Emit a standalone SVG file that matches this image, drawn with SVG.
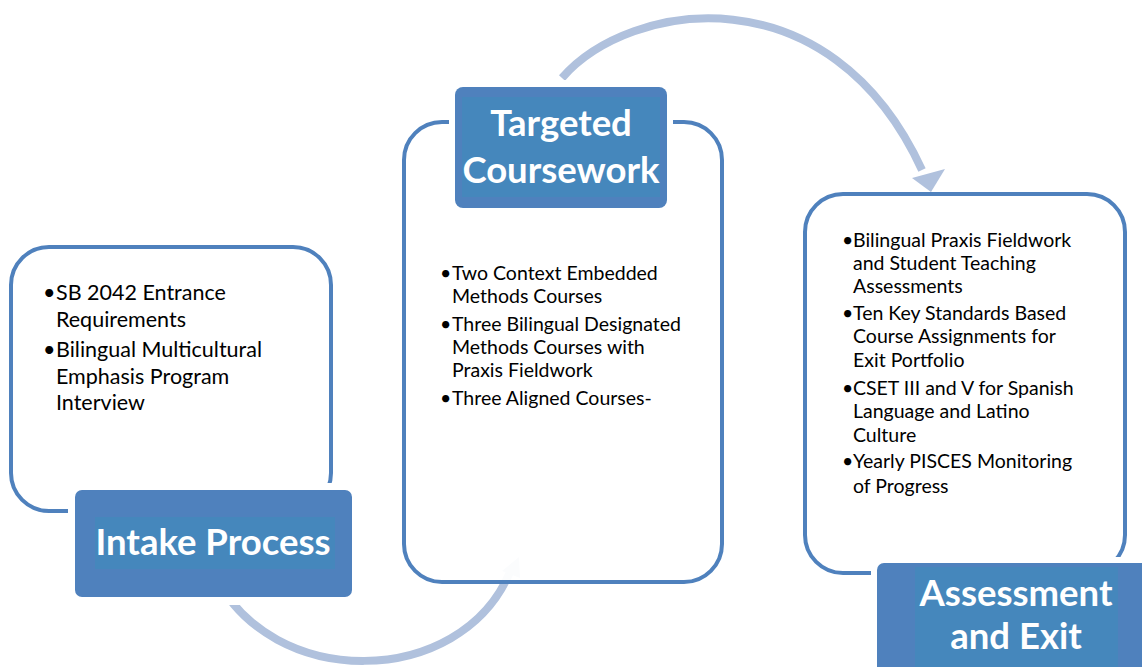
<svg xmlns="http://www.w3.org/2000/svg" width="1142" height="667" viewBox="0 0 1142 667">
<style>
.frame{fill:#fff;stroke:#4F81BD;stroke-width:4}
.title{fill:#4F81BD}
.titlein{fill:#4587BC}
.gap{fill:#fff}
.tt{font-family:Lato,"Liberation Sans",sans-serif;font-weight:bold;font-size:36.5px;fill:#fff;text-anchor:middle}
.bt{font-family:Lato,"Liberation Sans",sans-serif;font-size:21.5px;fill:#000}
.bm{font-family:Lato,"Liberation Sans",sans-serif;font-size:19.5px;fill:#000}
.arc{fill:none;stroke:#B0C1DD;stroke-width:8}
</style>
<rect width="1142" height="667" fill="#fff"/>
<g id="connectors">
<path class="arc" d="M562,78 C630,0 830,-30 922,170"/>
<polygon points="931,192 912,178 945,169" fill="#B0C1DD"/>
<path class="arc" d="M215,575 C270,690 460,690 510,572"/>
<polygon points="519,557 502,571 520,578" fill="#B0C1DD"/>
</g>
<g id="intake">
<rect class="frame" x="11" y="247" width="320" height="264" rx="38"/>
<rect class="gap" x="68" y="483" width="292" height="122"/>
<rect class="title" x="75" y="490" width="277" height="107" rx="7"/>
<rect class="titlein" x="95" y="517" width="240" height="52"/>
<text class="tt" x="213" y="555">Intake Process</text>
<g class="bt">
<text x="43" y="300">•</text><text x="56" y="300">SB 2042 Entrance</text>
<text x="56" y="327">Requirements</text>
<text x="43" y="357">•</text><text x="56" y="357">Bilingual Multicultural</text>
<text x="56" y="384">Emphasis Program</text>
<text x="56" y="410">Interview</text>
</g>
</g>
<g id="coursework">
<rect class="frame" x="404" y="122" width="318" height="460" rx="38" fill-opacity="0.94"/>
<rect class="gap" x="449" y="80" width="224" height="134"/>
<rect class="title" x="455" y="87" width="212" height="121" rx="8"/>
<rect class="titlein" x="462" y="97" width="198" height="100"/>
<text class="tt" x="561" y="136">Targeted</text>
<text class="tt" x="561" y="183">Coursework</text>
<g class="bm">
<text x="440" y="280">•</text><text x="452" y="280">Two Context Embedded</text>
<text x="452" y="303">Methods Courses</text>
<text x="440" y="331">•</text><text x="452" y="331">Three Bilingual Designated</text>
<text x="452" y="354">Methods Courses with</text>
<text x="452" y="377">Praxis Fieldwork</text>
<text x="440" y="405">•</text><text x="452" y="405">Three Aligned Courses-</text>
</g>
</g>
<g id="assessment">
<rect class="frame" x="805" y="194" width="320" height="379" rx="38"/>
<rect class="gap" x="871" y="557" width="271" height="110"/>
<rect class="title" x="877" y="563" width="272" height="110" rx="7"/>
<rect class="titlein" x="915" y="567" width="203" height="100"/>
<text class="tt" x="1016" y="606">Assessment</text>
<text class="tt" x="1016" y="649">and Exit</text>
<g class="bm">
<text x="842" y="247">•</text><text x="853" y="247">Bilingual Praxis Fieldwork</text>
<text x="853" y="270">and Student Teaching</text>
<text x="853" y="293">Assessments</text>
<text x="842" y="320">•</text><text x="853" y="320">Ten Key Standards Based</text>
<text x="853" y="343">Course Assignments for</text>
<text x="853" y="367">Exit Portfolio</text>
<text x="842" y="395">•</text><text x="853" y="395">CSET III and V for Spanish</text>
<text x="853" y="418">Language and Latino</text>
<text x="853" y="442">Culture</text>
<text x="842" y="468">•</text><text x="853" y="468">Yearly PISCES Monitoring</text>
<text x="853" y="493">of Progress</text>
</g>
</g>
</svg>
